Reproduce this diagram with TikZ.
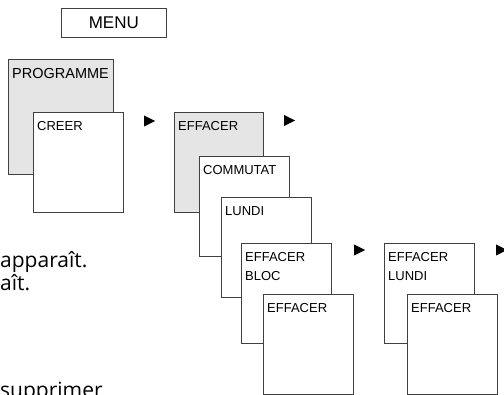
\documentclass[tikz,border=0pt]{standalone}
\usepackage{fontspec}
\setmainfont{Liberation Sans}
\newfontfamily\bodyfont{Open Sans}
\usetikzlibrary{shapes.geometric}
\tikzset{
  panel/.style={
    draw=black!75, line width=0.7pt, fill=white,
    anchor=north west, inner sep=0pt,
    minimum width=90pt, minimum height=100pt
  },
  greypanel/.style={panel, fill=black!10},
  tag/.style={
    anchor=base west, inner sep=0pt, xshift=4pt, yshift=-18.3pt,
    align=left, font=\fontsize{13}{19}\selectfont
  },
  tagtwo/.style={tag, yshift=-19pt},
  pointer/.style={
    isosceles triangle, isosceles triangle stretches,
    fill=black, inner sep=0pt, minimum width=11pt, minimum height=11pt
  },
  bodytext/.style={anchor=base west, inner sep=0pt, font=\bodyfont\fontsize{21}{25}\selectfont},
}

\begin{document}
\begin{tikzpicture}[x=1pt, y=-1pt]
  \clip (0,0) rectangle (504,395);

  \node[panel, minimum width=105pt, minimum height=29pt,
        font=\fontsize{17}{20}\selectfont] (menu) at (61,8) {MENU};

  % programme
  \node[greypanel, minimum width=105pt, minimum height=115pt,
        label={[tag, yshift=-1.4pt, font=\fontsize{14.5}{19}\selectfont]north west:PROGRAMME}]
                        (prog)    at (8,59)    {};
  \node[panel, label={[tag]north west:CREER}]
                        (creer)   at (33,112)  {};
  \node[pointer]        (ptrA)    at (147.5,121) {};

  % effacer
  \node[greypanel, minimum width=89pt,
        label={[tag]north west:EFFACER}]
                        (eff)     at (174,112) {};
  \node[pointer]        (ptrB)    at (287.5,120.5) {};
  \node[panel, label={[tag]north west:COMMUTAT}]
                        (commut)  at (199,156) {};
  \node[panel, label={[tag]north west:LUNDI}]
                        (lundi)   at (221,197) {};
  \node[panel, label={[tagtwo]north west:EFFACER\\BLOC}]
                        (effbloc) at (241,243) {};
  \node[panel, label={[tag]north west:EFFACER}]
                        (effA)    at (263,294) {};
  \node[pointer]        (ptrC)    at (357.5,250) {};

  \node[panel, label={[tagtwo]north west:EFFACER\\LUNDI}]
                        (efflundi) at (384,243) {};
  \node[panel, label={[tag]north west:EFFACER}]
                        (effB)    at (407,294) {};
  \node[pointer]        (ptrD)    at (499.5,250) {};

  % texte
  \node[bodytext] (txtA) at (0,268) {apparaît.};
  \node[bodytext] (txtB) at (0,291) {aît.};
  \node[bodytext] (txtC) at (0,398) {supprimer};
\end{tikzpicture}
\end{document}
